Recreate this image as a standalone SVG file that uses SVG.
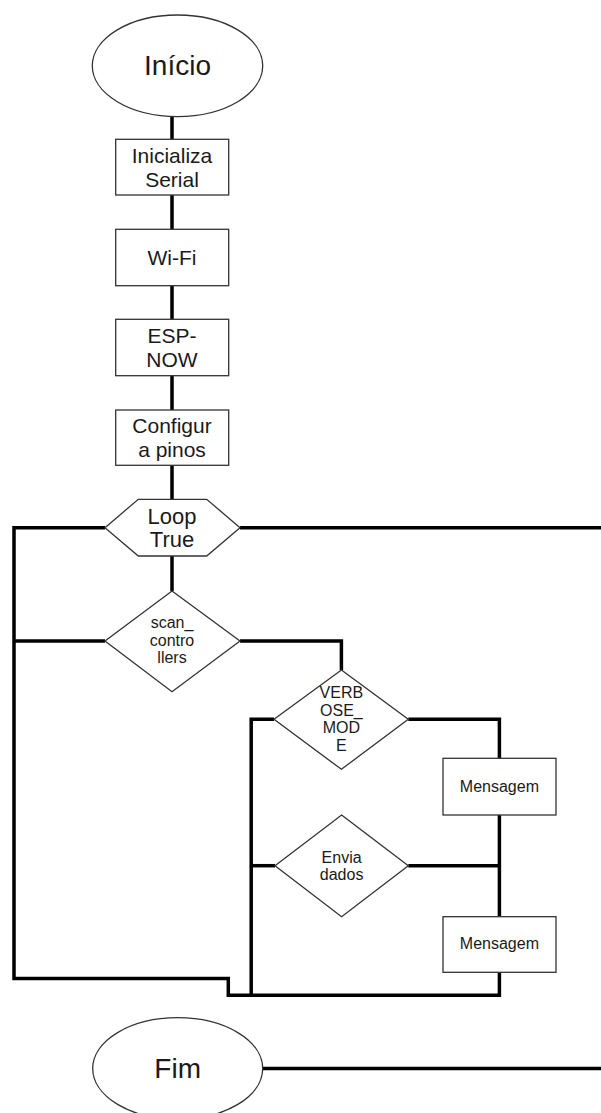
<svg xmlns="http://www.w3.org/2000/svg" width="601" height="1113" viewBox="0 0 601 1113">
<style>
.shape{fill:#fff;stroke:#333;stroke-width:1.3}
.conn{fill:none;stroke:#000;stroke-width:3.5;stroke-linejoin:miter}
.big{font-family:"Liberation Sans",Arial,sans-serif;font-size:28px;fill:#1a1a1a;text-anchor:middle}
.mid{font-family:"Liberation Sans",Arial,sans-serif;font-size:21px;fill:#1a1a1a;text-anchor:middle}
.lp{font-family:"Liberation Sans",Arial,sans-serif;font-size:22px;fill:#1a1a1a;text-anchor:middle}
.sm{font-family:"Liberation Sans",Arial,sans-serif;font-size:16px;fill:#1a1a1a;text-anchor:middle}
</style>
<rect width="601" height="1113" fill="#fff"/>
<g id="connectors">
<path class="conn" d="M172 116.7V139.3M172 195V229.3M172 285.7V319.3M172 375.7V410M172 465.3V499.3"/>
<path class="conn" d="M105 527.7H14V978.5H228.3V995.3H499.4V972.3"/>
<path class="conn" d="M240 527.7H601"/>
<path class="conn" d="M172 556V591"/>
<path class="conn" d="M105 641H14"/>
<path class="conn" d="M240 641H341.4V670"/>
<path class="conn" d="M274 719.3H251.2V995.3"/>
<path class="conn" d="M408.3 719.3H499.4V758.3"/>
<path class="conn" d="M499.4 815V916.7"/>
<path class="conn" d="M408.3 865.7H499.4"/>
<path class="conn" stroke-width="4.5" d="M275 865.7H251.2"/>
<path class="conn" d="M262.6 1068.5H601"/>
</g>
<g id="inicio">
<ellipse class="shape" cx="177.5" cy="65.8" rx="85.2" ry="50.8"/>
<text class="big" x="177.5" y="75">Início</text>
</g>
<g id="inicializa">
<rect class="shape" x="115.7" y="139.3" width="113" height="55.7"/>
<text class="mid" x="172" y="162.7">Inicializa</text>
<text class="mid" x="172" y="187.3">Serial</text>
</g>
<g id="wifi">
<rect class="shape" x="115.7" y="229.3" width="113" height="56.4"/>
<text class="mid" x="172" y="265">Wi-Fi</text>
</g>
<g id="espnow">
<rect class="shape" x="115.7" y="319.3" width="113" height="56.4"/>
<text class="mid" x="172" y="343.3">ESP-</text>
<text class="mid" x="172" y="367.3">NOW</text>
</g>
<g id="configura">
<rect class="shape" x="115.7" y="410" width="113" height="55.3"/>
<text class="mid" x="172" y="432.7">Configur</text>
<text class="mid" x="172" y="456.7">a pinos</text>
</g>
<g id="loop">
<polygon class="shape" points="105,527.7 138.3,499.3 206.7,499.3 240,527.7 206.7,556 138.3,556"/>
<text class="lp" x="172" y="523.5">Loop</text>
<text class="lp" x="172" y="546.5">True</text>
</g>
<g id="scan">
<polygon class="shape" points="172,591 240,641 172,691.7 105,641"/>
<text class="sm" x="172" y="627.7">scan_</text>
<text class="sm" x="172" y="646">contro</text>
<text class="sm" x="172" y="662.7">llers</text>
</g>
<g id="verbose">
<polygon class="shape" points="341.4,670 408.3,719.3 341.4,769.3 274,719.3"/>
<text class="sm" x="341.4" y="698.3">VERB</text>
<text class="sm" x="341.4" y="716">OSE_</text>
<text class="sm" x="341.4" y="733.3">MOD</text>
<text class="sm" x="341.4" y="750.7">E</text>
</g>
<g id="mensagem1">
<rect class="shape" x="443" y="758.3" width="113" height="56.7"/>
<text class="sm" x="499.4" y="791.7">Mensagem</text>
</g>
<g id="envia">
<polygon class="shape" points="341.6,815 408.3,865.7 341.6,916.7 275,865.7"/>
<text class="sm" x="341.6" y="863.3">Envia</text>
<text class="sm" x="341.6" y="880">dados</text>
</g>
<g id="mensagem2">
<rect class="shape" x="443" y="916.7" width="113" height="55.6"/>
<text class="sm" x="499.4" y="949.3">Mensagem</text>
</g>
<g id="fim">
<ellipse class="shape" cx="177.7" cy="1068.5" rx="85" ry="50.8"/>
<text class="big" x="177.7" y="1077.7">Fim</text>
</g>
</svg>
